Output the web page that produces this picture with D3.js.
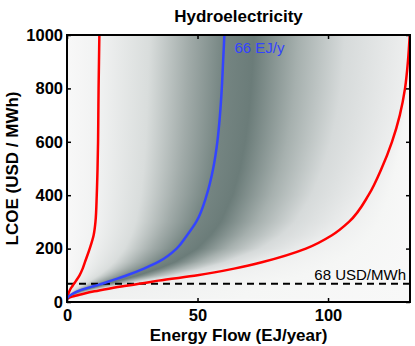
<!DOCTYPE html>
<html>
<head>
<meta charset="utf-8">
<script src="https://cdn.jsdelivr.net/npm/d3@7"></script>
<style>
  body { margin: 0; background: #fff; }
  text { font-family: "Liberation Sans", Arial, Helvetica, sans-serif; }
</style>
</head>
<body>
<svg id="chart" width="415" height="346"></svg>
<script>
//
// Data
//

// LCOE levels (USD/MWh) at which the three curves were read
const lcoeLevels = [12, 20, 30, 40, 50, 60, 70, 80, 100, 125, 150, 200, 250, 300, 400, 500, 600, 700, 800, 900, 1000];
// energy flow (EJ/year) of the low (red, left), median (blue) and high (red, right) curves
const flowLow    = [0, 0.2, 0.5, 0.9, 1.4, 2.1, 2.8, 3.5, 4.8, 6.0, 6.9, 8.7, 10.2, 10.9, 11.4, 11.7, 11.9, 12.0, 12.1, 12.25, 12.4];
const flowMedian = [0, 0.6, 2.0, 4.0, 7.0, 10.5, 14, 17, 23, 29.5, 35, 42, 46, 49.5, 53.5, 56, 57.6, 58.6, 59.3, 59.8, 60.3];
const flowHigh   = [0, 2, 6, 10.5, 16, 22, 29, 35, 50, 64, 75, 91.5, 101.5, 108, 115.5, 120.5, 124.5, 127.5, 129.5, 130.6, 131.3];

const xTicks = [0, 50, 100];
const yTicks = [0, 200, 400, 600, 800, 1000];

const refLcoe = 68;
const refLabel = '68 USD/MWh';
const medianLabel = '66 EJ/y';

const title = 'Hydroelectricity';
const xLabel = 'Energy Flow (EJ/year)';
const yLabel = 'LCOE (USD / MWh)';

//
// Set-up
//

const margin = { left: 67, top: 35, right: 5, bottom: 44 };
const width = 415 - margin.left - margin.right;
const height = 346 - margin.top - margin.bottom;

const svg = d3.select('#chart');
const wrapper = svg.append('g')
  .attr('transform', `translate(${margin.left},${margin.top})`);

const xScale = d3.scaleLinear().domain([0, 131.4]).range([0, width]);
const yScale = d3.scaleLinear().domain([0, 1000]).range([height, 0]);

// curve lookups (energy flow as a function of LCOE)
const lowAt = d3.scaleLinear().domain(lcoeLevels).range(flowLow).clamp(true);
const medAt = d3.scaleLinear().domain(lcoeLevels).range(flowMedian).clamp(true);
const highAt = d3.scaleLinear().domain(lcoeLevels).range(flowHigh).clamp(true);

//
// Density shading, one horizontal gradient per pixel row
//

const shade = d3.interpolateRgb('#f8f8f8', '#6b7c79');
const defs = svg.append('defs');
const xMax = xScale.domain()[1];

function rowStops(lo, med, hi) {
  // darkness along the row, keyed to the low / median / high curves
  return [
    [0, 0.0],
    [lo, 0.05],
    [lo + 0.4 * (med - lo), 0.22],
    [lo + 0.72 * (med - lo), 0.62],
    [med, 0.93],
    [med + 0.16 * (hi - med), 1.0],
    [med + 0.4 * (hi - med), 0.58],
    [med + 0.65 * (hi - med), 0.24],
    [hi, 0.07],
    [hi + 0.5 * (xMax - hi), 0.02],
    [xMax, 0.0]
  ];
}

const rows = d3.range(0, Math.round(height));
const rowGroup = wrapper.append('g').attr('class', 'shading');

rows.forEach(py => {
  const lcoe = yScale.invert(py + 0.5);
  let fill = shade(0);
  if (lcoe >= lcoeLevels[0]) {
    const id = `row${py}`;
    const grad = defs.append('linearGradient')
      .attr('id', id)
      .attr('gradientUnits', 'userSpaceOnUse')
      .attr('x1', 0).attr('x2', width)
      .attr('y1', 0).attr('y2', 0);
    grad.selectAll('stop')
      .data(rowStops(lowAt(lcoe), medAt(lcoe), highAt(lcoe)))
      .enter().append('stop')
        .attr('offset', d => Math.min(1, xScale(d[0]) / width))
        .attr('stop-color', d => shade(d[1]));
    fill = `url(#${id})`;
  }
  rowGroup.append('rect')
    .attr('x', 0)
    .attr('y', py)
    .attr('width', width)
    .attr('height', 1)
    .attr('shape-rendering', 'crispEdges')
    .style('fill', fill);
});

//
// Curves
//

svg.append('clipPath').attr('id', 'plotClip')
  .append('rect').attr('width', width).attr('height', height);

const curveGroup = wrapper.append('g').attr('clip-path', 'url(#plotClip)');

const makeLine = flows => d3.line()
  .x((d, i) => xScale(flows[i]))
  .y(d => yScale(d))
  .curve(d3.curveMonotoneY)(lcoeLevels);

// reference LCOE
curveGroup.append('line')
  .attr('x1', 0).attr('x2', width)
  .attr('y1', yScale(refLcoe)).attr('y2', yScale(refLcoe))
  .style('stroke', '#000')
  .style('stroke-width', 2)
  .style('stroke-dasharray', '7,5');

curveGroup.append('path')
  .attr('d', makeLine(flowLow))
  .style('fill', 'none').style('stroke', '#ff0000').style('stroke-width', 2.5);

curveGroup.append('path')
  .attr('d', makeLine(flowHigh))
  .style('fill', 'none').style('stroke', '#ff0000').style('stroke-width', 2.5);

curveGroup.append('path')
  .attr('d', makeLine(flowMedian))
  .style('fill', 'none').style('stroke', '#3344ff').style('stroke-width', 2.5);

// annotations
wrapper.append('text')
  .attr('x', xScale(flowMedian[flowMedian.length - 1]) + 10)
  .attr('y', 17.5)
  .style('font-size', '15px')
  .style('fill', '#3344ff')
  .text(medianLabel);

wrapper.append('text')
  .attr('x', width - 4)
  .attr('y', yScale(refLcoe) - 4)
  .attr('text-anchor', 'end')
  .style('font-size', '15px')
  .style('fill', '#000')
  .text(refLabel);

//
// Axes (ticks inside on all four sides)
//

const styleAxis = g => {
  g.select('.domain').remove();
  g.selectAll('.tick line').style('stroke', '#000').style('stroke-width', 1.5);
  g.selectAll('.tick text')
    .style('font-family', '"Liberation Sans", Arial, Helvetica, sans-serif')
    .style('font-size', '16.5px')
    .style('font-weight', 'bold')
    .style('fill', '#000');
};

wrapper.append('g')
  .attr('transform', `translate(0,${height})`)
  .call(d3.axisBottom(xScale).tickValues(xTicks).tickFormat(d3.format('d'))
    .tickSizeInner(-4).tickSizeOuter(0).tickPadding(7))
  .call(styleAxis);

wrapper.append('g')
  .call(d3.axisLeft(yScale).tickValues(yTicks).tickFormat(d3.format('d'))
    .tickSizeInner(-4).tickSizeOuter(0).tickPadding(4))
  .call(styleAxis);

wrapper.append('g')
  .call(d3.axisTop(xScale).tickValues(xTicks).tickSizeInner(-4).tickSizeOuter(0).tickFormat(''))
  .call(styleAxis);

wrapper.append('g')
  .attr('transform', `translate(${width},0)`)
  .call(d3.axisRight(yScale).tickValues(yTicks).tickSizeInner(-4).tickSizeOuter(0).tickFormat(''))
  .call(styleAxis);

// frame
wrapper.append('rect')
  .attr('width', width)
  .attr('height', height)
  .style('fill', 'none')
  .style('stroke', '#000')
  .style('stroke-width', 2);

//
// Labels
//

svg.append('text')
  .attr('x', margin.left + width / 2)
  .attr('y', 22)
  .attr('text-anchor', 'middle')
  .style('font-size', '17px')
  .style('font-weight', 'bold')
  .text(title);

svg.append('text')
  .attr('x', margin.left + width / 2)
  .attr('y', 341)
  .attr('text-anchor', 'middle')
  .style('font-size', '17px')
  .style('font-weight', 'bold')
  .text(xLabel);

svg.append('text')
  .attr('transform', `translate(18,${margin.top + height / 2}) rotate(-90)`)
  .attr('text-anchor', 'middle')
  .style('font-size', '17px')
  .style('font-weight', 'bold')
  .text(yLabel);
</script>
</body>
</html>
